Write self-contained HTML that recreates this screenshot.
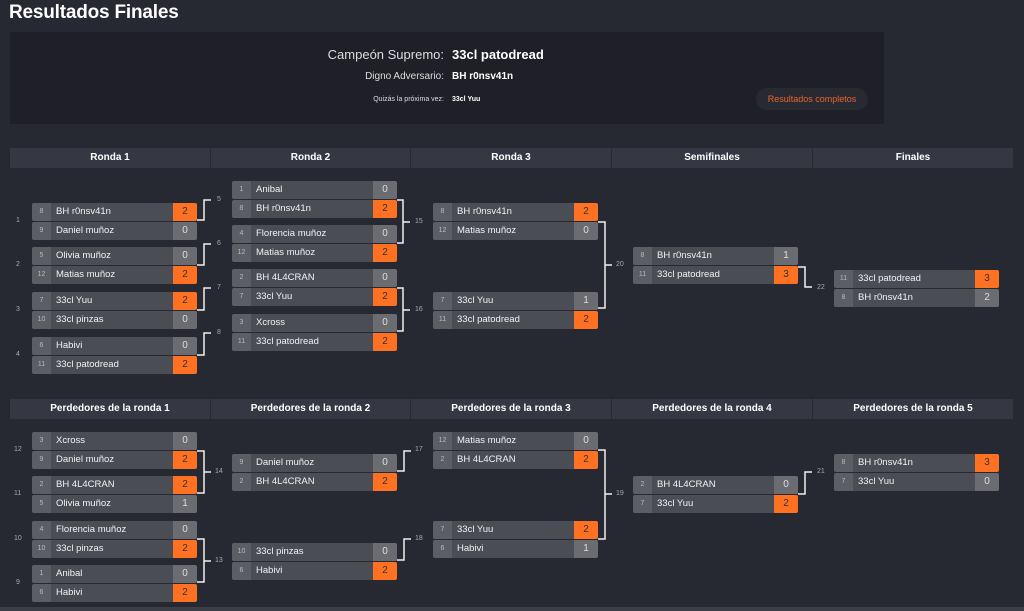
<!DOCTYPE html>
<html><head><meta charset="utf-8"><style>
*{margin:0;padding:0;box-sizing:border-box}
body{width:1024px;height:611px;background:#262832;font-family:"Liberation Sans",sans-serif;color:#fff;position:relative;overflow:hidden}
.a{position:absolute}
h1{position:absolute;left:9px;top:2px;font-size:19px;font-weight:bold;color:#fff;letter-spacing:-0.2px}
.panel{position:absolute;left:10px;top:32px;width:874px;height:92px;background:#1e1f27}
.hd{position:absolute;height:20px;background:#353843;color:#fff;font-size:10px;font-weight:bold;text-align:center;line-height:20px}
.m{position:absolute;width:165px}
.r{height:18px;margin-bottom:1px;display:flex;font-size:9.5px;line-height:18px;border-radius:2px;overflow:hidden}
.s{width:19px;background:#5c5e65;color:#bbb;font-size:7px;text-align:center}
.n{flex:1;background:#4b4d55;color:#f2f2f2;padding-left:5px;white-space:nowrap}
.p{width:24px;background:#6b6c72;color:#ddd;text-align:center;font-size:10px}
.w{background:#ff7122;color:#333}
.lb{position:absolute;font-size:7px;color:#aaa}
</style></head><body>
<h1>Resultados Finales</h1>
<div class="panel"></div>
<div class="a" style="left:200px;top:47px;width:244px;text-align:right;font-size:13px;color:#ddd">Campeón Supremo:</div>
<div class="a" style="left:452px;top:47px;font-size:13px;font-weight:bold">33cl patodread</div>
<div class="a" style="left:200px;top:71px;width:244px;text-align:right;font-size:10px;color:#ddd">Digno Adversario:</div>
<div class="a" style="left:452px;top:71px;font-size:10px;font-weight:bold">BH r0nsv41n</div>
<div class="a" style="left:200px;top:96px;width:244px;text-align:right;font-size:7px;color:#ddd">Quizás la próxima vez:</div>
<div class="a" style="left:452px;top:96px;font-size:7px;font-weight:bold">33cl Yuu</div>
<div class="a" style="left:756px;top:88px;width:112px;height:22px;border-radius:11px;background:#282a33;color:#e8632a;font-size:9px;text-align:center;line-height:22px">Resultados completos</div>

<div class="hd" style="left:10px;top:148px;width:200px">Ronda 1</div>
<div class="hd" style="left:211px;top:148px;width:199px">Ronda 2</div>
<div class="hd" style="left:411px;top:148px;width:200px">Ronda 3</div>
<div class="hd" style="left:612px;top:148px;width:200px">Semifinales</div>
<div class="hd" style="left:813px;top:148px;width:200px">Finales</div>
<div class="hd" style="left:10px;top:399px;width:200px">Perdedores de la ronda 1</div>
<div class="hd" style="left:211px;top:399px;width:199px">Perdedores de la ronda 2</div>
<div class="hd" style="left:411px;top:399px;width:200px">Perdedores de la ronda 3</div>
<div class="hd" style="left:612px;top:399px;width:200px">Perdedores de la ronda 4</div>
<div class="hd" style="left:813px;top:399px;width:200px">Perdedores de la ronda 5</div>

<svg class="a" style="left:0;top:0" width="1024" height="611" fill="none" stroke="#f0f0f0" stroke-width="1.5">
<polyline points="197,220 204,220 204,200 211,200"/>
<polyline points="197,265 204,265 204,244 211,244"/>
<polyline points="197,310 204,310 204,288 211,288"/>
<polyline points="197,355 204,355 204,333 211,333"/>
<polyline points="397,200 403,200 403,243 397,243"/><line x1="403" y1="222" x2="410" y2="222"/>
<polyline points="397,288 403,288 403,331 397,331"/><line x1="403" y1="310" x2="410" y2="310"/>
<polyline points="598,222 605,222 605,308 598,308"/><line x1="605" y1="265" x2="612" y2="265"/>
<polyline points="798,267 805,267 805,287 812,287"/>
<polyline points="197,451 204,451 204,493 197,493"/><line x1="204" y1="472" x2="211" y2="472"/>
<polyline points="197,539 204,539 204,582 197,582"/><line x1="204" y1="561" x2="211" y2="561"/>
<polyline points="397,471 404,471 404,451 411,451"/>
<polyline points="397,560 404,560 404,539 411,539"/>
<polyline points="598,450 605,450 605,539 598,539"/><line x1="605" y1="494" x2="612" y2="494"/>
<polyline points="798,494 805,494 805,472 812,472"/>
</svg>

<div class="lb" style="left:16px;top:217px">1</div>
<div class="lb" style="left:16px;top:261px">2</div>
<div class="lb" style="left:16px;top:306px">3</div>
<div class="lb" style="left:16px;top:351px">4</div>
<div class="lb" style="left:217px;top:196px">5</div>
<div class="lb" style="left:217px;top:240px">6</div>
<div class="lb" style="left:217px;top:284px">7</div>
<div class="lb" style="left:217px;top:329px">8</div>
<div class="lb" style="left:415px;top:218px">15</div>
<div class="lb" style="left:415px;top:306px">16</div>
<div class="lb" style="left:616px;top:261px">20</div>
<div class="lb" style="left:817px;top:284px">22</div>
<div class="lb" style="left:14px;top:446px">12</div>
<div class="lb" style="left:14px;top:490px">11</div>
<div class="lb" style="left:14px;top:535px">10</div>
<div class="lb" style="left:16px;top:579px">9</div>
<div class="lb" style="left:215px;top:468px">14</div>
<div class="lb" style="left:215px;top:557px">13</div>
<div class="lb" style="left:415px;top:446px">17</div>
<div class="lb" style="left:415px;top:535px">18</div>
<div class="lb" style="left:616px;top:490px">19</div>
<div class="lb" style="left:817px;top:468px">21</div>

<div class="m" style="left:32px;top:203px"><div class="r"><span class="s">8</span><span class="n">BH r0nsv41n</span><span class="p w">2</span></div><div class="r"><span class="s">9</span><span class="n">Daniel muñoz</span><span class="p">0</span></div></div>
<div class="m" style="left:32px;top:247px"><div class="r"><span class="s">5</span><span class="n">Olivia muñoz</span><span class="p">0</span></div><div class="r"><span class="s">12</span><span class="n">Matias muñoz</span><span class="p w">2</span></div></div>
<div class="m" style="left:32px;top:292px"><div class="r"><span class="s">7</span><span class="n">33cl Yuu</span><span class="p w">2</span></div><div class="r"><span class="s">10</span><span class="n">33cl pinzas</span><span class="p">0</span></div></div>
<div class="m" style="left:32px;top:337px"><div class="r"><span class="s">6</span><span class="n">Habivi</span><span class="p">0</span></div><div class="r"><span class="s">11</span><span class="n">33cl patodread</span><span class="p w">2</span></div></div>
<div class="m" style="left:232px;top:181px"><div class="r"><span class="s">1</span><span class="n">Anibal</span><span class="p">0</span></div><div class="r"><span class="s">8</span><span class="n">BH r0nsv41n</span><span class="p w">2</span></div></div>
<div class="m" style="left:232px;top:225px"><div class="r"><span class="s">4</span><span class="n">Florencia muñoz</span><span class="p">0</span></div><div class="r"><span class="s">12</span><span class="n">Matias muñoz</span><span class="p w">2</span></div></div>
<div class="m" style="left:232px;top:269px"><div class="r"><span class="s">2</span><span class="n">BH 4L4CRAN</span><span class="p">0</span></div><div class="r"><span class="s">7</span><span class="n">33cl Yuu</span><span class="p w">2</span></div></div>
<div class="m" style="left:232px;top:314px"><div class="r"><span class="s">3</span><span class="n">Xcross</span><span class="p">0</span></div><div class="r"><span class="s">11</span><span class="n">33cl patodread</span><span class="p w">2</span></div></div>
<div class="m" style="left:433px;top:203px"><div class="r"><span class="s">8</span><span class="n">BH r0nsv41n</span><span class="p w">2</span></div><div class="r"><span class="s">12</span><span class="n">Matias muñoz</span><span class="p">0</span></div></div>
<div class="m" style="left:433px;top:292px"><div class="r"><span class="s">7</span><span class="n">33cl Yuu</span><span class="p">1</span></div><div class="r"><span class="s">11</span><span class="n">33cl patodread</span><span class="p w">2</span></div></div>
<div class="m" style="left:633px;top:247px"><div class="r"><span class="s">8</span><span class="n">BH r0nsv41n</span><span class="p">1</span></div><div class="r"><span class="s">11</span><span class="n">33cl patodread</span><span class="p w">3</span></div></div>
<div class="m" style="left:834px;top:270px"><div class="r"><span class="s">11</span><span class="n">33cl patodread</span><span class="p w">3</span></div><div class="r"><span class="s">8</span><span class="n">BH r0nsv41n</span><span class="p">2</span></div></div>

<div class="m" style="left:32px;top:432px"><div class="r"><span class="s">3</span><span class="n">Xcross</span><span class="p">0</span></div><div class="r"><span class="s">9</span><span class="n">Daniel muñoz</span><span class="p w">2</span></div></div>
<div class="m" style="left:32px;top:476px"><div class="r"><span class="s">2</span><span class="n">BH 4L4CRAN</span><span class="p w">2</span></div><div class="r"><span class="s">5</span><span class="n">Olivia muñoz</span><span class="p">1</span></div></div>
<div class="m" style="left:32px;top:521px"><div class="r"><span class="s">4</span><span class="n">Florencia muñoz</span><span class="p">0</span></div><div class="r"><span class="s">10</span><span class="n">33cl pinzas</span><span class="p w">2</span></div></div>
<div class="m" style="left:32px;top:565px"><div class="r"><span class="s">1</span><span class="n">Anibal</span><span class="p">0</span></div><div class="r"><span class="s">6</span><span class="n">Habivi</span><span class="p w">2</span></div></div>
<div class="m" style="left:232px;top:454px"><div class="r"><span class="s">9</span><span class="n">Daniel muñoz</span><span class="p">0</span></div><div class="r"><span class="s">2</span><span class="n">BH 4L4CRAN</span><span class="p w">2</span></div></div>
<div class="m" style="left:232px;top:543px"><div class="r"><span class="s">10</span><span class="n">33cl pinzas</span><span class="p">0</span></div><div class="r"><span class="s">6</span><span class="n">Habivi</span><span class="p w">2</span></div></div>
<div class="m" style="left:433px;top:432px"><div class="r"><span class="s">12</span><span class="n">Matias muñoz</span><span class="p">0</span></div><div class="r"><span class="s">2</span><span class="n">BH 4L4CRAN</span><span class="p w">2</span></div></div>
<div class="m" style="left:433px;top:521px"><div class="r"><span class="s">7</span><span class="n">33cl Yuu</span><span class="p w">2</span></div><div class="r"><span class="s">6</span><span class="n">Habivi</span><span class="p">1</span></div></div>
<div class="m" style="left:633px;top:476px"><div class="r"><span class="s">2</span><span class="n">BH 4L4CRAN</span><span class="p">0</span></div><div class="r"><span class="s">7</span><span class="n">33cl Yuu</span><span class="p w">2</span></div></div>
<div class="m" style="left:834px;top:454px"><div class="r"><span class="s">8</span><span class="n">BH r0nsv41n</span><span class="p w">3</span></div><div class="r"><span class="s">7</span><span class="n">33cl Yuu</span><span class="p">0</span></div></div>

<div class="a" style="left:0;top:607px;width:1024px;height:4px;background:#3c3e46"></div>
</body></html>
